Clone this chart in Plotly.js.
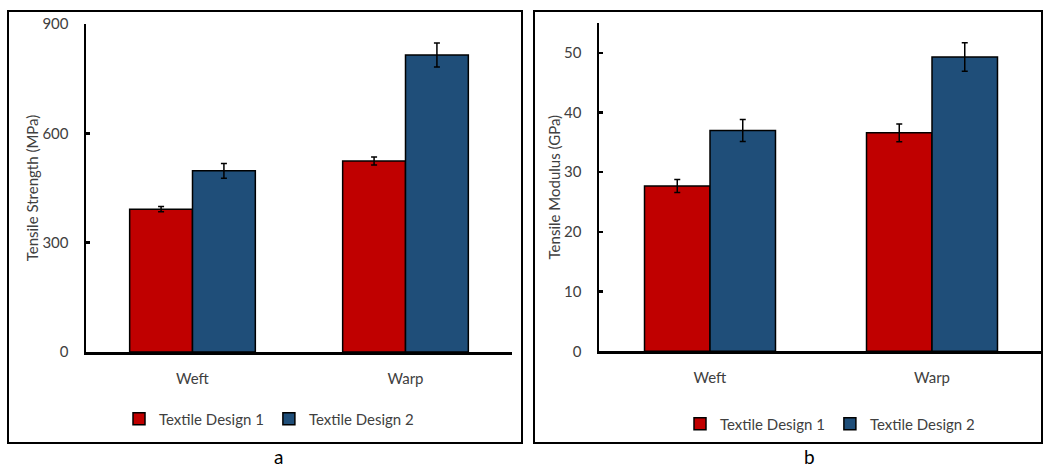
<!DOCTYPE html>
<html>
<head>
<meta charset="utf-8">
<script src="https://cdn.plot.ly/plotly-3.0.1.min.js"></script>
<style>html,body{margin:0;padding:0;background:#fff;}#chart{width:1043px;height:471px;}</style>
</head>
<body>
<div id="chart"></div>
<script>
// Data
const categories = ["Weft", "Warp"];
const seriesNames = ["Textile Design 1", "Textile Design 2"];
const strength1 = [392, 524];
const strength1Err = [7, 11];
const strength2 = [497, 815];
const strength2Err = [20, 33];
const modulus1 = [27.7, 36.6];
const modulus1Err = [1.1, 1.5];
const modulus2 = [37.0, 49.3];
const modulus2Err = [1.85, 2.4];
const strengthTicks = [0, 300, 600, 900];
const modulusTicks = [0, 10, 20, 30, 40, 50];
const panelLabels = ["a", "b"];

const W = 1043, H = 471;
const px = v => v / W;
const py = v => 1 - v / H;
const red = "#C00000", blue = "#1F4E79";
const txt = "#404040";
const font = "Lato, 'Open Sans', sans-serif";

function barTrace(y, err, name, color, xa, ya, legend, showlegend) {
  return {
    type: "bar", x: categories, y: y, name: name,
    xaxis: xa, yaxis: ya, legend: legend, showlegend: showlegend,
    marker: {color: color, line: {color: "#000", width: 1.5}},
    error_y: {type: "data", array: err, visible: true, color: "#000", thickness: 1.5, width: 3},
    hoverinfo: "skip"
  };
}

const data = [
  barTrace(strength1, strength1Err, seriesNames[0], red, "x", "y", "legend", true),
  barTrace(strength2, strength2Err, seriesNames[1], blue, "x", "y", "legend", true),
  barTrace(modulus1, modulus1Err, seriesNames[0], red, "x2", "y2", "legend2", true),
  barTrace(modulus2, modulus2Err, seriesNames[1], blue, "x2", "y2", "legend2", true)
];

const xCommon = {
  showline: true, linecolor: "#000", linewidth: 2.5,
  ticks: "", showgrid: false, zeroline: false, fixedrange: true,
  tickfont: {family: font, size: 15, color: txt}, ticklabelstandoff: 11
};
const yCommon = {
  showline: true, linecolor: "#000", linewidth: 2.5,
  ticks: "inside", ticklen: 4, tickwidth: 2.5, tickcolor: "#000",
  showgrid: false, zeroline: false, fixedrange: true,
  tickfont: {family: font, size: 15, color: txt}, ticklabelstandoff: 12
};

const layout = {
  width: W, height: H,
  margin: {l: 0, r: 0, t: 0, b: 0},
  paper_bgcolor: "#fff", plot_bgcolor: "#fff",
  barmode: "group", bargap: 0.41, bargroupgap: 0,
  font: {family: font, color: txt},
  xaxis: Object.assign({}, xCommon, {domain: [px(86), px(512)], anchor: "y"}),
  yaxis: Object.assign({}, yCommon, {domain: [py(352), py(24)], range: [0, 900], tickvals: strengthTicks, anchor: "x",
    title: {text: "Tensile Strength (MPa)", font: {family: font, size: 15, color: txt}, standoff: 0}}),
  xaxis2: Object.assign({}, xCommon, {domain: [px(599), px(1043)], anchor: "y2"}),
  yaxis2: Object.assign({}, yCommon, {domain: [py(351.3), py(23)], range: [0, 55], tickvals: modulusTicks, anchor: "x2",
    title: {text: "Tensile Modulus (GPa)", font: {family: font, size: 15, color: txt}, standoff: 0}}),
  legend: {orientation: "h", x: px(269), xanchor: "center", y: py(419), yanchor: "middle",
    font: {family: font, size: 15, color: txt}, bgcolor: "rgba(0,0,0,0)", itemwidth: 30},
  legend2: {orientation: "h", x: px(830), xanchor: "center", y: py(424), yanchor: "middle",
    font: {family: font, size: 15, color: txt}, bgcolor: "rgba(0,0,0,0)", itemwidth: 30},
  shapes: [
    {type: "rect", xref: "paper", yref: "paper", x0: px(8), x1: px(522), y0: py(443), y1: py(11), line: {color: "#000", width: 2}},
    {type: "rect", xref: "paper", yref: "paper", x0: px(534), x1: px(1042), y0: py(443), y1: py(11), line: {color: "#000", width: 2}}
  ],
  annotations: [
    {text: panelLabels[0], xref: "paper", yref: "paper", x: px(278), y: py(470), xanchor: "center", yanchor: "bottom", showarrow: false, font: {family: font, size: 19, color: "#000"}},
    {text: panelLabels[1], xref: "paper", yref: "paper", x: px(809), y: py(470), xanchor: "center", yanchor: "bottom", showarrow: false, font: {family: font, size: 19, color: "#000"}}
  ]
};

Plotly.newPlot("chart", data, layout, {displayModeBar: false, staticPlot: true});
</script>
</body>
</html>
